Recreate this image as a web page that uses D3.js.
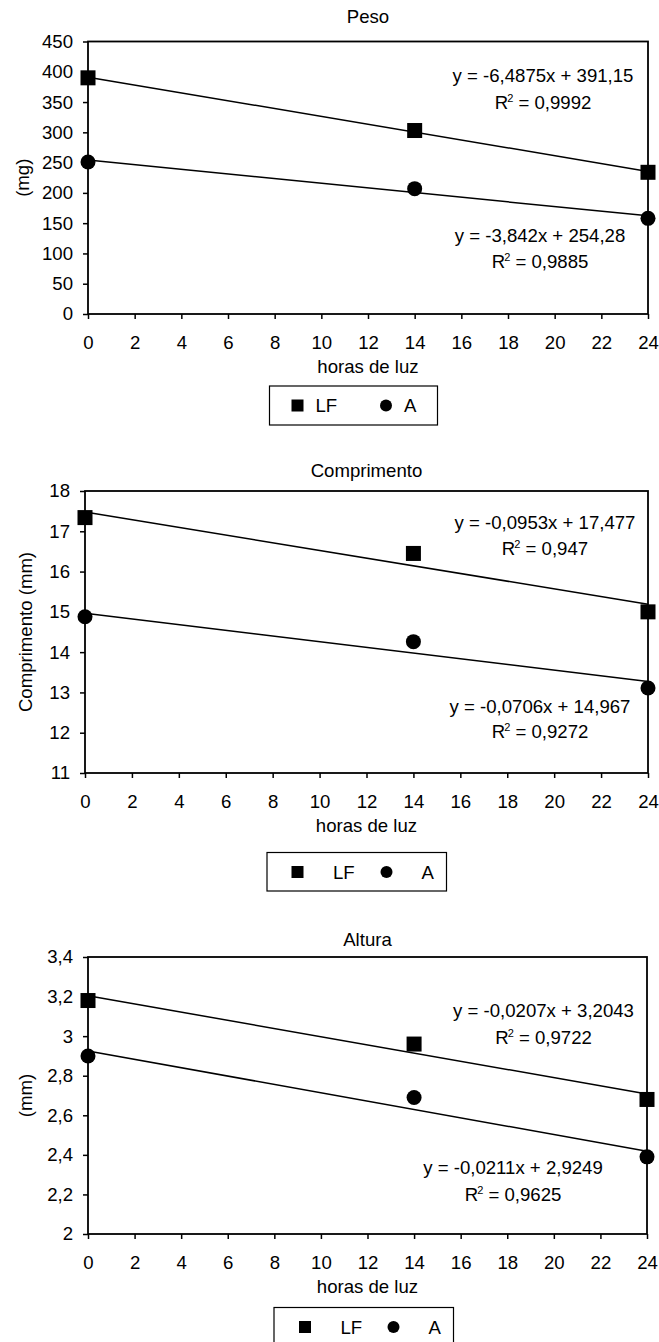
<!DOCTYPE html>
<html>
<head>
<meta charset="utf-8">
<script src="https://cdn.jsdelivr.net/npm/d3@7"></script>
<style>
  body { margin: 0; background: #fff; }
  svg text { font-family: "Liberation Sans", Arial, sans-serif; fill: #000; }
</style>
</head>
<body>
<div id="chart"></div>
<script>
// Data
var hours = [0, 14, 24];
var hourTicks = [0, 2, 4, 6, 8, 10, 12, 14, 16, 18, 20, 22, 24];
var seriesNames = ["LF", "A"];

var pesoLF = [390, 303, 234];
var pesoA = [251, 207, 158];
var pesoTicks = [0, 50, 100, 150, 200, 250, 300, 350, 400, 450];
var pesoSlopes = [-6.4875, -3.842];
var pesoIntercepts = [391.15, 254.28];
var pesoEquations = ["y = -6,4875x + 391,15", "y = -3,842x + 254,28"];
var pesoR2 = ["0,9992", "0,9885"];

var compLF = [17.34, 16.45, 15.0];
var compA = [14.88, 14.26, 13.11];
var compTicks = [11, 12, 13, 14, 15, 16, 17, 18];
var compSlopes = [-0.0953, -0.0706];
var compIntercepts = [17.477, 14.967];
var compEquations = ["y = -0,0953x + 17,477", "y = -0,0706x + 14,967"];
var compR2 = ["0,947", "0,9272"];

var altLF = [3.18, 2.96, 2.68];
var altA = [2.90, 2.69, 2.39];
var altTicks = [2, 2.2, 2.4, 2.6, 2.8, 3, 3.2, 3.4];
var altSlopes = [-0.0207, -0.0211];
var altIntercepts = [3.2043, 2.9249];
var altEquations = ["y = -0,0207x + 3,2043", "y = -0,0211x + 2,9249"];
var altR2 = ["0,9722", "0,9625"];

var W = 659, H = 1342;
var fontSize = 18.6;

var svg = d3.select("#chart").append("svg")
    .attr("width", W)
    .attr("height", H);

// comma decimals like the original
function fmt(v) {
    return String(+v.toFixed(2)).replace(".", ",");
}

function drawChart(cfg) {
    var x = d3.scaleLinear().domain([0, 24]).range([cfg.left, cfg.right]);
    var y = d3.scaleLinear().domain(cfg.yDomain).range([cfg.bottom, cfg.top]);
    var g = svg.append("g");

    // Title
    g.append("text")
        .attr("x", (cfg.left + cfg.right) / 2)
        .attr("y", cfg.titleY)
        .attr("text-anchor", "middle")
        .attr("font-size", fontSize)
        .text(cfg.title);

    // Axes
    var yAxis = g.append("g")
        .attr("transform", "translate(" + cfg.left + ",0)")
        .call(d3.axisLeft(y).tickValues(cfg.yTicks).tickFormat(fmt)
            .tickSize(5).tickSizeOuter(0).tickPadding(10));
    var xAxis = g.append("g")
        .attr("transform", "translate(0," + cfg.bottom + ")")
        .call(d3.axisBottom(x).tickValues(hourTicks).tickFormat(fmt)
            .tickSize(5).tickSizeOuter(0).tickPadding(16.5));
    [yAxis, xAxis].forEach(function(a) {
        a.select(".domain").remove();
        a.selectAll("line").attr("stroke", "#000").attr("stroke-width", 1.5);
        a.selectAll("text")
            .attr("font-size", fontSize)
            .attr("font-family", "Liberation Sans, Arial, sans-serif")
            .attr("fill", "#000");
    });

    // Plot frame
    g.append("rect")
        .attr("x", cfg.left)
        .attr("y", cfg.top)
        .attr("width", cfg.right - cfg.left)
        .attr("height", cfg.bottom - cfg.top)
        .attr("fill", "none")
        .attr("stroke", "#000")
        .attr("stroke-width", 1.8);

    // Axis labels
    g.append("text")
        .attr("transform", "translate(" + cfg.yLabelX + "," + ((cfg.top + cfg.bottom) / 2) + ") rotate(-90)")
        .attr("text-anchor", "middle")
        .attr("dy", "0.35em")
        .attr("font-size", fontSize)
        .text(cfg.yLabel);
    g.append("text")
        .attr("x", (cfg.left + cfg.right) / 2)
        .attr("y", cfg.bottom + 59)
        .attr("text-anchor", "middle")
        .attr("font-size", fontSize)
        .text("horas de luz");

    // Trend lines
    cfg.slopes.forEach(function(s, i) {
        var b = cfg.intercepts[i];
        g.append("line")
            .attr("x1", x(0)).attr("y1", y(b))
            .attr("x2", x(24)).attr("y2", y(b + s * 24))
            .attr("stroke", "#000")
            .attr("stroke-width", 1.5);
    });

    // Markers
    g.selectAll("rect.lf")
        .data(cfg.lf)
        .enter().append("rect")
        .attr("class", "lf")
        .attr("x", function(d, i) { return x(hours[i]) - 7.5; })
        .attr("y", function(d) { return y(d) - 7.5; })
        .attr("width", 15)
        .attr("height", 15)
        .attr("fill", "#000");
    g.selectAll("circle.a")
        .data(cfg.a)
        .enter().append("circle")
        .attr("class", "a")
        .attr("cx", function(d, i) { return x(hours[i]); })
        .attr("cy", function(d) { return y(d); })
        .attr("r", 7.5)
        .attr("fill", "#000");

    // Equation labels
    cfg.equations.forEach(function(eq, i) {
        var p = cfg.eqPos[i];
        g.append("text")
            .attr("x", p[0]).attr("y", p[1])
            .attr("text-anchor", "middle")
            .attr("font-size", fontSize)
            .text(eq);
        var r = g.append("text")
            .attr("x", p[0]).attr("y", p[2])
            .attr("text-anchor", "middle")
            .attr("font-size", fontSize);
        r.append("tspan").text("R");
        r.append("tspan").attr("font-size", 11).attr("dx", -1).attr("dy", -7).text("2");
        r.append("tspan").attr("dy", 7).text(" = " + cfg.r2[i]);
    });

    // Legend
    var L = cfg.legend;
    g.append("rect")
        .attr("x", L.x0).attr("y", L.y0)
        .attr("width", L.x1 - L.x0).attr("height", L.y1 - L.y0)
        .attr("fill", "#fff")
        .attr("stroke", "#000")
        .attr("stroke-width", 1.2);
    var cy = (L.y0 + 19.5);
    g.append("rect")
        .attr("x", L.sq - 6).attr("y", cy - 6)
        .attr("width", 12).attr("height", 12)
        .attr("fill", "#000");
    g.append("circle")
        .attr("cx", L.ci).attr("cy", cy)
        .attr("r", 6)
        .attr("fill", "#000");
    g.append("text").attr("x", L.t1).attr("y", cy).attr("dy", "0.35em")
        .attr("font-size", fontSize).text(seriesNames[0]);
    g.append("text").attr("x", L.t2).attr("y", cy).attr("dy", "0.35em")
        .attr("font-size", fontSize).text(seriesNames[1]);
}

drawChart({
    title: "Peso", yLabel: "(mg)",
    left: 88, right: 648, top: 41.5, bottom: 314,
    titleY: 22.5, yLabelX: 22.5,
    yDomain: [0, 450], yTicks: pesoTicks,
    lf: pesoLF, a: pesoA,
    slopes: pesoSlopes, intercepts: pesoIntercepts,
    equations: pesoEquations, r2: pesoR2,
    eqPos: [[543, 82, 108.5], [540, 242, 268]],
    legend: { x0: 269.5, x1: 437.5, y0: 386, y1: 425, sq: 297.5, t1: 315.5, ci: 386, t2: 404 }
});

drawChart({
    title: "Comprimento", yLabel: "Comprimento (mm)",
    left: 85, right: 648, top: 491, bottom: 773,
    titleY: 477, yLabelX: 25.5,
    yDomain: [11, 18], yTicks: compTicks,
    lf: compLF, a: compA,
    slopes: compSlopes, intercepts: compIntercepts,
    equations: compEquations, r2: compR2,
    eqPos: [[545, 528.5, 554.5], [540, 712.5, 737.5]],
    legend: { x0: 267, x1: 446.5, y0: 852.5, y1: 891, sq: 297.5, t1: 333, ci: 386.5, t2: 421.5 }
});

drawChart({
    title: "Altura", yLabel: "(mm)",
    left: 88, right: 647, top: 957, bottom: 1234,
    titleY: 945.5, yLabelX: 25,
    yDomain: [2, 3.4], yTicks: altTicks,
    lf: altLF, a: altA,
    slopes: altSlopes, intercepts: altIntercepts,
    equations: altEquations, r2: altR2,
    eqPos: [[543.5, 1016.5, 1044], [513, 1174, 1200.5]],
    legend: { x0: 274, x1: 453.5, y0: 1307.5, y1: 1346, sq: 305, t1: 340.5, ci: 393.5, t2: 428.5 }
});
</script>
</body>
</html>
